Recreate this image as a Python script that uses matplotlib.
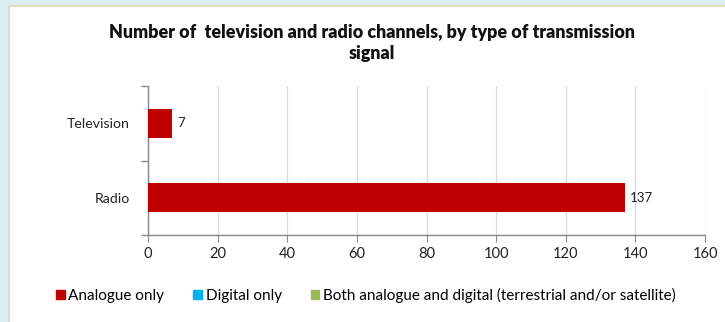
import matplotlib.pyplot as plt
import matplotlib.patches as mpatches
import numpy as np

plt.rcParams['font.family'] = ['Lato', 'DejaVu Sans']

categories = ['Radio', 'Television']
analogue_only = [137, 7]
digital_only = [0, 0]
both = [0, 0]
series_names = ['Analogue only', 'Digital only',
                'Both analogue and digital (terrestrial and/or satellite)']
colors = ['#C00000', '#00B0F0', '#9BBB59']

fig = plt.figure(figsize=(7.25, 3.22), dpi=100)
fig.patch.set_facecolor('#DBEEF3')

# white chart panel with beige border
panel = mpatches.Rectangle((9 / 725, -0.01), 1, 1.01 - 6 / 322, transform=fig.transFigure,
                           facecolor='white', edgecolor='#E0D8B8', linewidth=1.2, zorder=-1)
fig.patches.append(panel)

ax = fig.add_axes([148 / 725, 1 - 235 / 322, (705 - 148) / 725, (235 - 86) / 322])
ax.set_facecolor('white')

y = np.arange(len(categories))
left = np.zeros(len(categories))
for vals, name, c in zip([analogue_only, digital_only, both], series_names, colors):
    ax.barh(y, vals, left=left, height=0.39, color=c, label=name, zorder=3)
    left = left + np.array(vals)

for yi, v in zip(y, analogue_only):
    ax.text(v + 1.5, yi, str(v), va='center', ha='left', fontsize=9.5, color='#222222')

ax.set_xlim(0, 160)
ax.set_ylim(-0.5, 1.5)
ax.set_xticks(np.arange(0, 161, 20))
ax.set_yticks(y)
ax.set_yticklabels(categories)
ax.set_yticks([-0.5, 0.5, 1.5], minor=True)
ax.tick_params(axis='y', which='major', length=0, pad=13, labelsize=10.2, labelcolor='#222222')
ax.tick_params(axis='y', which='minor', length=5, color='#888888', width=1)
ax.tick_params(axis='x', length=5, color='#888888', labelsize=10.5, labelcolor='#222222', pad=4)
ax.grid(axis='x', color='#D9D9D9', linewidth=0.9, zorder=0)
for s in ['top', 'right']:
    ax.spines[s].set_visible(False)
for s in ['left', 'bottom']:
    ax.spines[s].set_color('#888888')
    ax.spines[s].set_linewidth(1)

fig.text(0.513, 1 - 43 / 322,
         'Number of  television and radio channels, by type of transmission\nsignal',
         ha='center', va='center', fontsize=12.9, fontweight='heavy', color='#111111',
         linespacing=1.3)

handles = [mpatches.Patch(color=c) for c in colors]
fig.legend(handles, series_names, loc='center left', bbox_to_anchor=(50 / 725, 1 - 295 / 322),
           ncol=3, frameon=False, fontsize=11, handlelength=0.55, handleheight=0.55,
           handletextpad=0.25, columnspacing=1.9, borderaxespad=0)

fig.savefig('out.png', dpi=100)
